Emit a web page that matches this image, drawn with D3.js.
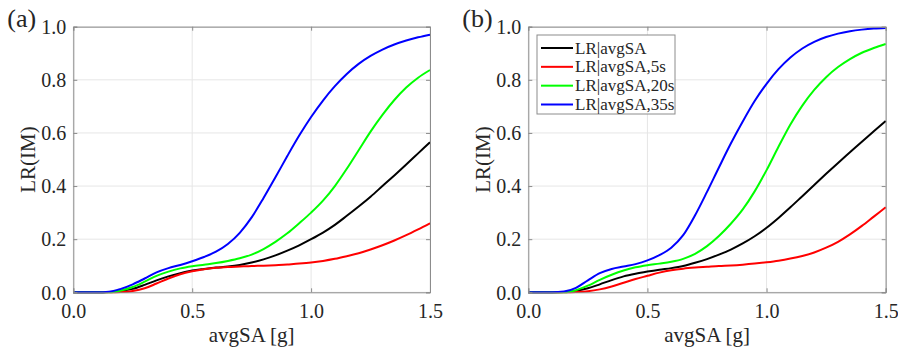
<!DOCTYPE html>
<html>
<head>
<meta charset="utf-8">
<script src="https://cdn.jsdelivr.net/npm/d3@7"></script>
<style>
  body { margin: 0; background: #fff; }
  svg text { font-family: "Liberation Serif", "Times New Roman", Times, serif; fill: #262626; }
</style>
</head>
<body>
<svg id="chart" width="898" height="349"></svg>
<script>
// avgSA values [g] at which the curves are read
const avgSA = [0, 0.1, 0.15, 0.2, 0.25, 0.3, 0.35, 0.4, 0.45, 0.5, 0.55, 0.6, 0.65, 0.7, 0.75,
  0.8, 0.85, 0.9, 0.95, 1.0, 1.05, 1.1, 1.15, 1.2, 1.25, 1.3, 1.35, 1.4, 1.45, 1.5];

// panel (a)
const aAvgSA = [0, 0, 0.001, 0.005, 0.013, 0.028, 0.045, 0.06, 0.072, 0.082, 0.088, 0.093, 0.097, 0.103, 0.112,
  0.124, 0.139, 0.157, 0.177, 0.2, 0.225, 0.254, 0.288, 0.323, 0.36, 0.4, 0.44, 0.481, 0.523, 0.565];
const aAvgSA5 = [0, 0, 0, 0.001, 0.005, 0.015, 0.033, 0.052, 0.068, 0.079, 0.087, 0.092, 0.095, 0.097, 0.099,
  0.1, 0.102, 0.105, 0.108, 0.112, 0.118, 0.126, 0.136, 0.147, 0.161, 0.177, 0.195, 0.215, 0.237, 0.26];
const aAvgSA20 = [0, 0, 0, 0.007, 0.02, 0.04, 0.062, 0.078, 0.09, 0.098, 0.104, 0.11, 0.118, 0.128, 0.142,
  0.163, 0.19, 0.222, 0.26, 0.3, 0.345, 0.4, 0.465, 0.535, 0.605, 0.668, 0.724, 0.771, 0.808, 0.837];
const aAvgSA35 = [0, 0, 0.002, 0.013, 0.03, 0.052, 0.075, 0.091, 0.103, 0.117, 0.133, 0.153, 0.182, 0.224, 0.282,
  0.355, 0.433, 0.513, 0.59, 0.66, 0.722, 0.776, 0.822, 0.86, 0.89, 0.914, 0.933, 0.948, 0.96, 0.97];

// panel (b)
const bAvgSA = [0, 0, 0.001, 0.005, 0.015, 0.03, 0.046, 0.06, 0.07, 0.078, 0.085, 0.091, 0.099, 0.111, 0.125,
  0.142, 0.161, 0.184, 0.211, 0.243, 0.28, 0.32, 0.362, 0.404, 0.446, 0.487, 0.527, 0.567, 0.606, 0.645];
const bAvgSA5 = [0, 0, 0, 0.001, 0.004, 0.011, 0.022, 0.036, 0.05, 0.062, 0.074, 0.083, 0.089, 0.093, 0.096,
  0.099, 0.101, 0.104, 0.108, 0.113, 0.119, 0.127, 0.137, 0.15, 0.168, 0.19, 0.218, 0.25, 0.285, 0.32];
const bAvgSA20 = [0, 0, 0, 0.008, 0.025, 0.047, 0.066, 0.082, 0.094, 0.102, 0.108, 0.115, 0.126, 0.145, 0.174,
  0.212, 0.258, 0.312, 0.38, 0.46, 0.548, 0.632, 0.703, 0.762, 0.81, 0.848, 0.878, 0.902, 0.92, 0.935];
const bAvgSA35 = [0, 0, 0.003, 0.017, 0.045, 0.072, 0.088, 0.097, 0.106, 0.12, 0.14, 0.168, 0.215, 0.29, 0.378,
  0.47, 0.56, 0.643, 0.72, 0.785, 0.84, 0.884, 0.918, 0.943, 0.961, 0.974, 0.983, 0.989, 0.993, 0.995];

const seriesNames = ["LR|avgSA", "LR|avgSA,5s", "LR|avgSA,20s", "LR|avgSA,35s"];
const seriesColors = ["#000000", "#ff0000", "#00ff00", "#0000ff"];
const xTicks = [0, 0.5, 1.0, 1.5];
const yTicks = [0, 0.2, 0.4, 0.6, 0.8, 1.0];

const serif = '"Liberation Serif", "Times New Roman", Times, serif';
const svg = d3.select("#chart").attr("font-family", serif);
svg.append("rect").attr("width", 898).attr("height", 349).attr("fill", "#fff");

const plotTop = 26.7, plotBottom = 292.3;

function drawPanel(left, right, label, series, withLegend) {
  const x = d3.scaleLinear().domain([0, 1.5]).range([left, right]);
  const y = d3.scaleLinear().domain([0, 1]).range([plotBottom, plotTop]);
  const g = svg.append("g");

  // grid
  g.selectAll(".gx").data(xTicks).enter().append("line")
    .attr("x1", d => x(d)).attr("x2", d => x(d)).attr("y1", plotTop).attr("y2", plotBottom)
    .attr("stroke", "#e6e6e6").attr("stroke-width", 1);
  g.selectAll(".gy").data(yTicks).enter().append("line")
    .attr("y1", d => y(d)).attr("y2", d => y(d)).attr("x1", left).attr("x2", right)
    .attr("stroke", "#e6e6e6").attr("stroke-width", 1);

  // curves
  const line = d3.line()
    .x((d, i) => x(avgSA[i]))
    .y(d => y(d))
    .curve(d3.curveMonotoneX);
  series.forEach((s, i) => {
    g.append("path").datum(s)
      .attr("fill", "none")
      .attr("stroke", seriesColors[i])
      .attr("stroke-width", 2)
      .attr("d", line);
  });

  // axes (ticks inward, box)
  const axisColor = "#8c8c8c";
  const bottomAxis = g.append("g").attr("transform", "translate(0," + plotBottom + ")")
    .call(d3.axisBottom(x).tickValues(xTicks).tickSize(-4).tickPadding(8).tickFormat(d3.format(".1f")));
  const leftAxis = g.append("g").attr("transform", "translate(" + left + ",0)")
    .call(d3.axisLeft(y).tickValues(yTicks).tickSize(-4).tickPadding(7).tickFormat(d3.format(".1f")));
  const topAxis = g.append("g").attr("transform", "translate(0," + plotTop + ")")
    .call(d3.axisTop(x).tickValues(xTicks).tickSize(-4).tickFormat(""));
  const rightAxis = g.append("g").attr("transform", "translate(" + right + ",0)")
    .call(d3.axisRight(y).tickValues(yTicks).tickSize(-4).tickFormat(""));
  [bottomAxis, leftAxis, topAxis, rightAxis].forEach(a => {
    a.attr("font-family", serif).attr("font-size", 20);
    a.select(".domain").attr("stroke", axisColor);
    a.selectAll(".tick line").attr("stroke", axisColor);
    a.selectAll("text").attr("fill", "#262626");
  });
  bottomAxis.selectAll("text").attr("dy", null).attr("y", 26);
  leftAxis.selectAll("text").attr("dy", "0.34em");

  // axis labels
  g.append("text")
    .attr("x", (left + right) / 2).attr("y", 342)
    .attr("text-anchor", "middle").attr("font-size", 21)
    .text("avgSA [g]");
  g.append("text")
    .attr("transform", "translate(" + (left - 38) + "," + ((plotTop + plotBottom) / 2) + ") rotate(-90)")
    .attr("text-anchor", "middle").attr("font-size", 21)
    .text("LR(IM)");

  // panel label
  g.append("text")
    .attr("x", left - 66).attr("y", 27)
    .attr("font-size", 26).attr("fill", "#000")
    .text(label);

  if (withLegend) {
    const lx = left + 8.7, ly = 35, lw = 138, lh = 79;
    const leg = g.append("g");
    leg.append("rect").attr("x", lx).attr("y", ly).attr("width", lw).attr("height", lh)
      .attr("fill", "#fff").attr("stroke", "#8c8c8c").attr("stroke-width", 1);
    const rowY = d3.scalePoint().domain(seriesNames).range([ly + 13, ly + 69.5]);
    seriesNames.forEach((n, i) => {
      leg.append("line")
        .attr("x1", lx + 4).attr("x2", lx + 36)
        .attr("y1", rowY(n)).attr("y2", rowY(n))
        .attr("stroke", seriesColors[i]).attr("stroke-width", 2);
      leg.append("text")
        .attr("x", lx + 38).attr("y", rowY(n)).attr("dy", "0.33em")
        .attr("font-size", 17).attr("fill", "#000")
        .text(n);
    });
  }
}

drawPanel(73.3, 430, "(a)", [aAvgSA, aAvgSA5, aAvgSA20, aAvgSA35], false);
drawPanel(528.3, 885.7, "(b)", [bAvgSA, bAvgSA5, bAvgSA20, bAvgSA35], true);
</script>
</body>
</html>
